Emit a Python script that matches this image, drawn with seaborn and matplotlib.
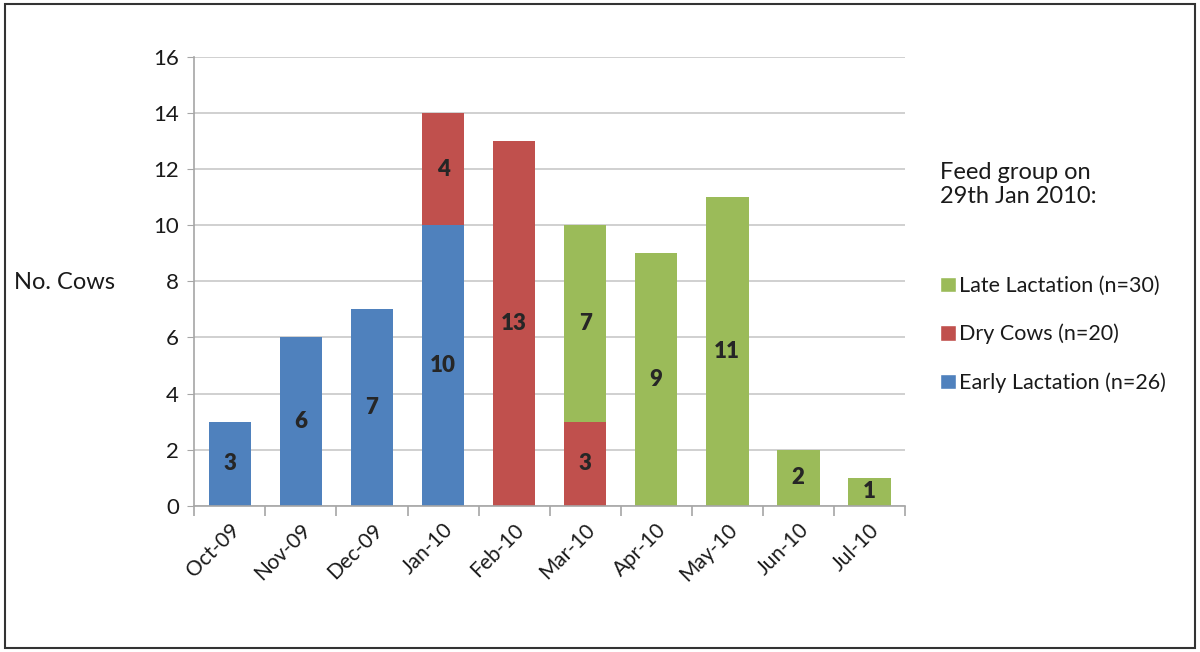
import numpy as np
import pandas as pd
import matplotlib.pyplot as plt
import seaborn as sns
from matplotlib.patches import Patch, Rectangle

# --- data ---
months = ["Oct-09", "Nov-09", "Dec-09", "Jan-10", "Feb-10",
          "Mar-10", "Apr-10", "May-10", "Jun-10", "Jul-10"]
early_lactation = [3, 6, 7, 10, 0, 0, 0, 0, 0, 0]
dry_cows = [0, 0, 0, 4, 13, 3, 0, 0, 0, 0]
late_lactation = [0, 0, 0, 0, 0, 7, 9, 11, 2, 1]

groups = ["Early Lactation (n=26)", "Dry Cows (n=20)", "Late Lactation (n=30)"]
colors = ["#4F81BD", "#C0504D", "#9BBB59"]

df = pd.DataFrame({"month": months, "early": early_lactation,
                   "dry": dry_cows, "late": late_lactation})

sns.set_style("white")
plt.rcParams["font.family"] = ["Lato", "DejaVu Sans"]

fig = plt.figure(figsize=(12, 6.52), dpi=100)
ax = fig.add_axes([0.162, 0.224, 0.592, 0.689])

# stack the three feed groups bottom-up
bottom = np.zeros(len(df))
for col, color in zip(["early", "dry", "late"], colors):
    vals = df[col].values
    sns.barplot(x=df["month"], y=vals, bottom=bottom, color=color,
                width=0.6, saturation=1, ax=ax, edgecolor="none")
    for i, v in enumerate(vals):
        if v > 0:
            ax.text(i, bottom[i] + v / 2, str(v), ha="center", va="center",
                    fontsize=16, fontweight="heavy", color="#262626")
    bottom = bottom + vals

ax.set_ylim(0, 16)
ax.set_xlim(-0.5, len(months) - 0.5)
ax.set_yticks(range(0, 17, 2))
ax.yaxis.grid(True, color="#C8C8C8", linewidth=1.2)
ax.set_axisbelow(True)
for s in ["top", "right"]:
    ax.spines[s].set_visible(False)
for s in ["left", "bottom"]:
    ax.spines[s].set_color("#A6A6A6")
    ax.spines[s].set_linewidth(1.2)

ax.tick_params(axis="y", labelsize=16, length=5, color="#A6A6A6",
               left=True, pad=6, labelcolor="#1a1a1a")
ax.set_xticks(np.arange(len(months)))
ax.set_xticklabels(months, rotation=45, ha="right", rotation_mode="anchor",
                   fontsize=15, color="#1a1a1a")
ax.tick_params(axis="x", length=0, pad=10)
ax.set_xticks(np.arange(-0.5, len(months)), minor=True)
ax.tick_params(axis="x", which="minor", length=7, color="#A6A6A6",
               width=1.2, bottom=True)

ax.set_xlabel("")
ax.set_ylabel("")
fig.text(0.012, 0.567, "No. Cows", fontsize=17, va="center", ha="left",
         color="#1a1a1a")

fig.text(0.783, 0.717, "Feed group on\n29th Jan 2010:", fontsize=17,
         va="center", ha="left", color="#1a1a1a", linespacing=1.2)

handles = [Patch(facecolor=c, label=g) for g, c in zip(groups, colors)][::-1]
fig.legend(handles=handles, loc="center left", bbox_to_anchor=(0.767, 0.487),
           frameon=False, fontsize=15.5, handlelength=0.75, handleheight=0.75,
           handletextpad=0.15, labelspacing=1.3, labelcolor="#1a1a1a")

fig.patches.append(Rectangle((0.004, 0.006), 0.992, 0.988, transform=fig.transFigure,
                             fill=False, edgecolor="#333333", linewidth=1.5))

fig.savefig("out.png", dpi=100)
